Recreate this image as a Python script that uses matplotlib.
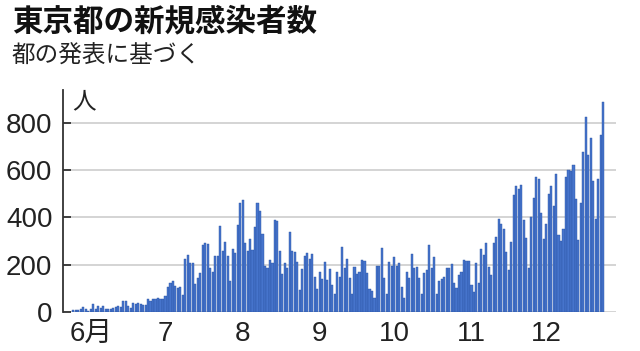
import matplotlib
matplotlib.use("Agg")
import matplotlib.pyplot as plt
import numpy as np
import pandas as pd

plt.rcParams["font.family"] = ["Liberation Sans", "Noto Sans CJK JP"]

TITLE = "東京都の新規感染者数"
SUBTITLE = "都の発表に基づく"
UNIT = "人"

# daily new cases, 2020-05-25 .. 2020-12-24
may = [8, 10, 11, 15, 22, 14, 5]
jun = [13, 34, 12, 28, 20, 26, 14, 13, 12, 18, 22, 25, 24, 47, 48,
       27, 16, 41, 35, 39, 35, 29, 31, 55, 48, 54, 57, 60, 58, 54]
jul = [67, 107, 124, 131, 111, 102, 106, 75, 224, 243, 206, 206, 119, 143, 165,
       286, 293, 290, 188, 168, 237, 238, 366, 260, 295, 239, 131, 266, 250, 367, 463]
aug = [472, 292, 258, 309, 263, 360, 462, 429, 331, 197, 188, 222, 206, 389, 385,
       260, 161, 207, 186, 339, 258, 256, 212, 95, 182, 236, 250, 226, 247, 148, 100]
sep = [170, 141, 211, 136, 181, 116, 77, 170, 149, 276, 187, 226, 146, 78, 191,
       163, 171, 220, 218, 165, 98, 88, 59, 195, 195, 270, 144, 78, 212, 194]
oct_ = [235, 196, 207, 108, 60, 170, 146, 248, 187, 190, 146, 78, 166, 177, 284,
        185, 235, 77, 132, 139, 150, 185, 186, 203, 124, 102, 158, 171, 221, 215, 215]
nov = [116, 87, 209, 122, 269, 242, 294, 189, 157, 293, 317, 393, 374, 352, 255,
       180, 298, 493, 534, 522, 539, 391, 314, 186, 401, 481, 570, 561, 418, 311]
dec = [372, 500, 533, 449, 584, 327, 299, 352, 572, 602, 595, 621, 480, 305, 460,
       678, 822, 664, 736, 556, 392, 563, 748, 888]

cases = may + jun + jul + aug + sep + oct_ + nov + dec
dates = pd.date_range("2020-05-25", periods=len(cases), freq="D")

month_labels = ["6月", "7", "8", "9", "10", "11", "12"]
y_ticks = [0, 200, 400, 600, 800]

fig = plt.figure(figsize=(6.4, 3.51), dpi=100)
ax = fig.add_axes([0.0992, 0.1103, 0.8633, 0.6333])

x = np.arange(len(cases))
for yv in y_ticks:
    ax.axhline(yv, color="#cdcdcd", lw=1.2, zorder=0)
ax.bar(x, cases, width=0.85, color="#4674cc", edgecolor="#2a54a3", linewidth=0.3, zorder=2)

ax.set_xlim(-4.0, 218.1)
ax.set_ylim(0, 938)

ax.set_yticks(y_ticks)
ax.set_yticklabels([str(v) for v in y_ticks], fontsize=20, color="#222222")
month_idx = [i for i, d in enumerate(dates) if d.day == 1]
ax.set_xticks(month_idx)
ax.set_xticklabels(month_labels, fontsize=20, color="#222222")

for side in ("top", "right", "bottom"):
    ax.spines[side].set_visible(False)
ax.spines["left"].set_color("#333333")
ax.spines["left"].set_linewidth(1.3)
ax.tick_params(axis="y", direction="in", length=6, width=1.3, color="#333333", pad=8)
ax.tick_params(axis="x", length=0, pad=6)

fig.text(84 / 640, 1 - 102 / 351, UNIT, fontsize=17, ha="center", va="center",
         family="Noto Sans CJK JP", color="#222222")
fig.text(12 / 640, 1 - 21 / 351, TITLE, fontsize=22, fontweight="bold", ha="left", va="center",
         family="Noto Sans CJK JP", color="#111111")
fig.text(12 / 640, 1 - 56 / 351, SUBTITLE, fontsize=17, ha="left", va="center",
         family="Noto Sans CJK JP", color="#222222")

fig.savefig("out.png", dpi=100)
